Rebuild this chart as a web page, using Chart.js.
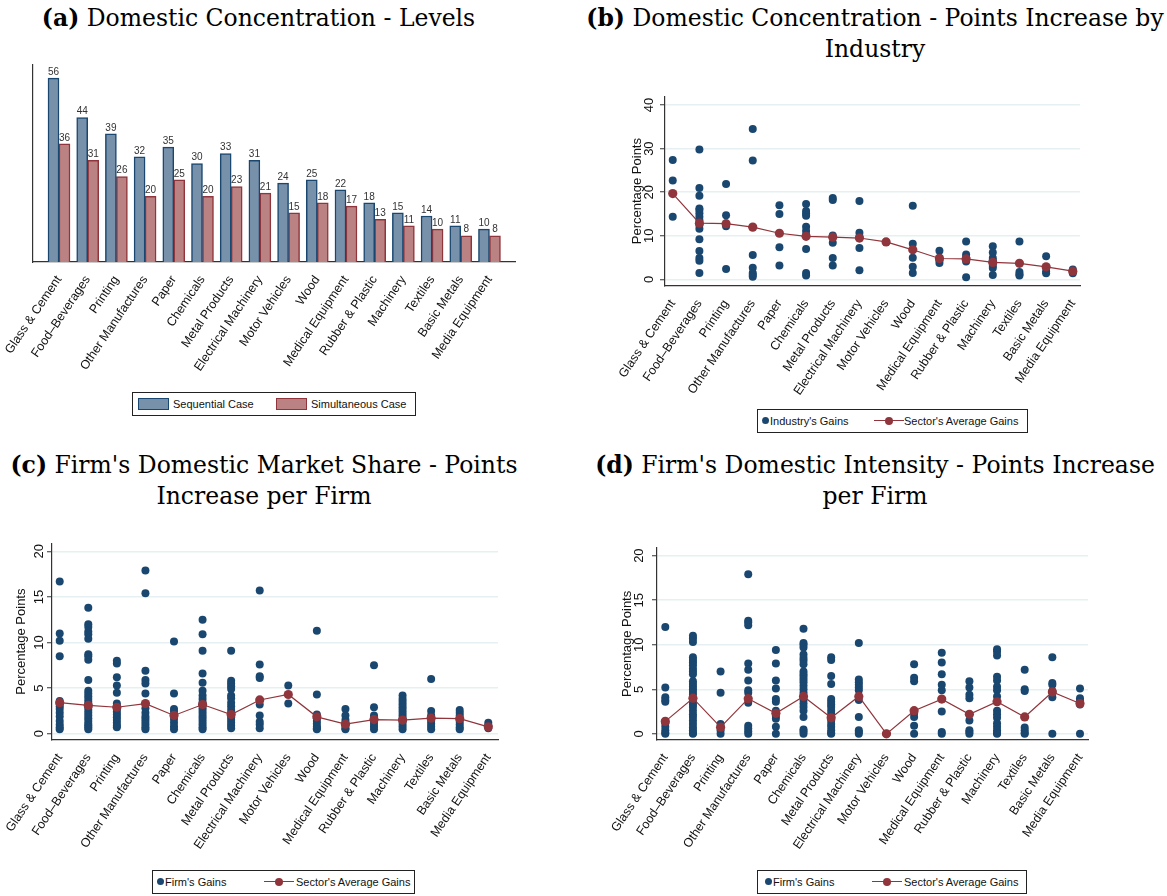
<!DOCTYPE html>
<html>
<head>
<meta charset="utf-8">
<script src="https://cdn.jsdelivr.net/npm/chart.js@4.4.1/dist/chart.umd.min.js"></script>
<style>
  html, body { margin: 0; padding: 0; background: #fff; }
  #page { position: relative; width: 1167px; height: 896px; overflow: hidden; background: #fff; }
  canvas { position: absolute; }
  .title { position: absolute; font-family: "DejaVu Serif", "Liberation Serif", serif; font-size: 23.5px; color: #000; text-align: center; line-height: 31px; white-space: nowrap; }
  .legend { position: absolute; border: 1px solid #222; background: #fff; font-family: "Liberation Sans", Arial, sans-serif; font-size: 11px; color: #111; box-sizing: border-box; white-space: nowrap; }
  .legend > * { position: absolute; }
  .legend .txt { top: 4px; line-height: 14px; }
  .swatch { top: 5px; width: 31px; height: 12px; box-sizing: border-box; }
  .dot { top: 7px; width: 7px; height: 7px; border-radius: 50%; background: #1a476f; }
  .lineMark { top: 6px; width: 30px; height: 10px; }
  .lineMark::before { content: ""; position: absolute; left: 0; right: 0; top: 4px; height: 1.4px; background: #90353b; }
  .lineMark::after { content: ""; position: absolute; left: 11px; top: 1px; width: 8px; height: 8px; border-radius: 50%; background: #90353b; }
</style>
</head>
<body>
<div id="page">
  <div class="title" style="left:0; width:517px; top:3px;"><b>(a)</b> Domestic Concentration - Levels</div>
  <div class="title" style="left:583px; width:584px; top:3px;"><b>(b)</b> Domestic Concentration - Points Increase by<br>Industry</div>
  <div class="title" style="left:0; width:528px; top:450px;"><b>(c)</b> Firm's Domestic Market Share - Points<br>Increase per Firm</div>
  <div class="title" style="left:590px; width:570px; top:450px;"><b>(d)</b> Firm's Domestic Intensity - Points Increase<br>per Firm</div>

  <canvas id="chartA" width="530" height="330" style="left:0; top:55px;"></canvas>
  <canvas id="chartB" width="495" height="320" style="left:600px; top:85px;"></canvas>
  <canvas id="chartC" width="510" height="330" style="left:0; top:535px;"></canvas>
  <canvas id="chartD" width="510" height="330" style="left:590px; top:535px;"></canvas>

  <div class="legend" style="left:132px; top:392px; width:284px; height:24px;">
    <div class="swatch" style="left:5px; background:#7891aa; border:1.5px solid #1a476f;"></div>
    <div class="txt" style="left:40px;">Sequential Case</div>
    <div class="swatch" style="left:143px; background:#bb8283; border:1.5px solid #90353b;"></div>
    <div class="txt" style="left:178px;">Simultaneous Case</div>
  </div>
  <div class="legend" style="left:757px; top:409px; width:271px; height:24px;">
    <div class="dot" style="left:4px;"></div>
    <div class="txt" style="left:12px;">Industry's Gains</div>
    <div class="lineMark" style="left:116px;"></div>
    <div class="txt" style="left:146px;">Sector's Average Gains</div>
  </div>
  <div class="legend" style="left:152px; top:870px; width:263px; height:24px;">
    <div class="dot" style="left:4px;"></div>
    <div class="txt" style="left:12px;">Firm's Gains</div>
    <div class="lineMark" style="left:111px;"></div>
    <div class="txt" style="left:143px;">Sector's Average Gains</div>
  </div>
  <div class="legend" style="left:757px; top:870px; width:270px; height:24px;">
    <div class="dot" style="left:7px;"></div>
    <div class="txt" style="left:15px;">Firm's Gains</div>
    <div class="lineMark" style="left:114px;"></div>
    <div class="txt" style="left:146px;">Sector's Average Gains</div>
  </div>
</div>

<script>
// ---- Industry names (same order in every panel) ----
const industries = [
  "Glass & Cement", "Food\u2013Beverages", "Printing", "Other Manufactures", "Paper",
  "Chemicals", "Metal Products", "Electrical Machinery", "Motor Vehicles", "Wood",
  "Medical Equipment", "Rubber & Plastic", "Machinery", "Textiles", "Basic Metals",
  "Media Equipment"
];

// ---- (a) Concentration levels ----
const sequentialLevels   = [56, 44, 39, 32, 35, 30, 33, 31, 24, 25, 22, 18, 15, 14, 11, 10];
const simultaneousLevels = [36, 31, 26, 20, 25, 20, 23, 21, 15, 18, 17, 13, 11, 10, 8, 8];

// ---- (b) Concentration increase by industry ----
const industryGains = [
  [27.4, 22.7, 14.4],
  [29.8, 21.0, 19.2, 16.3, 15.9, 15.2, 14.4, 13.6, 12.5, 11.6, 9.2, 6.5, 4.9, 4.3, 1.5],
  [21.9, 14.7, 12.2, 2.4],
  [34.5, 27.3, 5.6, 2.7, 1.5, 1.0, 0.6],
  [17.0, 15.0, 7.4, 3.2],
  [17.3, 15.7, 15.1, 14.6, 12.1, 11.1, 10.2, 7.0, 1.5, 0.9],
  [18.7, 18.2, 10.1, 8.4, 4.9, 3.2],
  [18.0, 10.7, 9.8, 7.2, 2.1],
  [8.6],
  [16.9, 8.2, 5.0, 2.9, 1.5],
  [6.6, 5.0, 4.4, 3.8],
  [8.7, 5.7, 5.1, 4.1, 0.5],
  [7.6, 6.2, 4.9, 4.4, 3.8, 3.1, 2.6, 1.0],
  [8.7, 1.7, 1.2, 0.9],
  [5.3, 2.8, 1.8, 1.4],
  [2.3, 1.7, 1.4]
];
const industryAvg = [19.7, 12.9, 12.8, 12.0, 10.6, 9.9, 9.7, 9.5, 8.6, 6.8, 4.8, 4.7, 3.9, 3.7, 2.9, 1.9];

// ---- (c) Firm market share increase ----
const shareGains = [
  [16.7, 11.0, 10.2, 8.5, 3.6, 3.3, 3.0, 2.7, 2.3, 1.9, 1.4, 1.0, 0.7, 0.5],
  [13.8, 12.0, 11.7, 11.2, 10.9, 10.4, 8.7, 8.5, 8.1, 5.9, 4.7, 4.4, 4.1, 3.8, 3.5, 3.2, 2.9, 2.6, 2.3, 2.0, 1.7, 1.4, 1.1, 0.9, 0.7, 0.5],
  [8.0, 7.7, 6.2, 5.3, 4.5, 3.3, 3.0, 2.7, 2.4, 2.1, 1.8, 1.5, 1.2, 0.9, 0.7],
  [17.9, 15.4, 6.9, 5.9, 5.5, 4.4, 2.8, 2.3, 1.9, 1.6, 1.3, 1.0, 0.7, 0.5],
  [10.1, 4.4, 2.7, 2.4, 1.6, 1.2, 0.8, 0.5],
  [12.5, 10.9, 9.1, 6.6, 5.6, 4.7, 4.2, 3.8, 3.4, 3.1, 2.8, 2.5, 2.2, 1.9, 1.6, 1.3, 1.0, 0.7, 0.5],
  [9.1, 5.8, 5.5, 5.2, 4.9, 4.2, 3.9, 3.4, 3.0, 2.6, 2.2, 1.8, 1.5, 1.2, 0.9, 0.6],
  [15.7, 7.6, 6.3, 6.1, 3.2, 2.0, 1.3, 1.0, 0.6],
  [5.3, 3.3],
  [11.3, 4.3, 2.1, 1.7, 1.4, 1.1, 0.8, 0.6, 0.5],
  [2.7, 2.0, 1.5, 1.2, 0.9, 0.6, 0.5],
  [7.5, 2.9, 2.0, 1.7, 1.4, 1.1, 0.8, 0.5],
  [4.2, 3.8, 3.5, 3.2, 2.9, 2.6, 2.3, 2.0, 1.7, 1.4, 1.1, 0.8, 0.5],
  [6.0, 2.5, 2.0, 1.4, 1.1, 0.8, 0.5],
  [2.6, 2.3, 2.0, 1.6, 1.3, 1.0, 0.7, 0.5],
  [1.2, 0.9, 0.6]
];
const shareAvg = [3.4, 3.1, 2.9, 3.3, 2.0, 3.2, 2.1, 3.7, 4.3, 1.85, 1.05, 1.55, 1.5, 1.7, 1.65, 0.75];

// ---- (d) Firm domestic intensity increase ----
const intensityGains = [
  [12.0, 5.2, 4.1, 3.8, 3.6, 1.2, 0.8, 0.4, 0.1, 0.0],
  [11.0, 10.7, 10.3, 8.6, 8.3, 8.0, 7.7, 7.3, 7.0, 6.7, 5.9, 5.6, 5.3, 5.0, 4.7, 4.4, 3.6, 3.3, 3.0, 2.6, 2.2, 1.9, 1.5, 1.1, 0.7, 0.4, 0.1, 0.0],
  [7.0, 4.6, 1.1, 0.4, 0.0],
  [17.9, 12.7, 12.5, 12.2, 7.9, 7.2, 6.0, 4.9, 4.6, 3.5, 0.9, 0.6, 0.3, 0.0],
  [9.4, 7.9, 6.0, 5.1, 3.9, 3.6, 2.6, 2.0, 1.7, 0.8, 0.0],
  [11.8, 10.2, 10.0, 9.7, 8.9, 8.5, 8.2, 7.8, 7.0, 6.7, 6.4, 6.1, 5.8, 5.4, 5.0, 4.6, 3.8, 3.4, 3.0, 2.6, 1.9, 0.5, 0.3, 0.0],
  [8.6, 8.3, 6.5, 5.6, 3.9, 3.6, 3.3, 3.0, 2.6, 2.2, 1.5, 1.1, 0.8, 0.4, 0.1, 0.0],
  [10.2, 6.1, 5.8, 5.5, 5.2, 4.9, 3.8, 1.9, 0.4, 0.2, 0.0],
  [0.0],
  [7.8, 6.3, 5.9, 2.3, 1.9, 0.9, 0.0],
  [9.1, 8.0, 6.7, 5.5, 4.9, 2.5, 0.2, 0.0],
  [5.9, 5.2, 4.4, 4.0, 1.5, 0.4, 0.2, 0.0],
  [9.5, 9.2, 8.8, 6.4, 6.0, 5.3, 4.9, 4.2, 2.6, 2.2, 1.8, 1.2, 0.8, 0.4, 0.1, 0.0],
  [7.2, 5.0, 4.8, 0.7, 0.4, 0.1, 0.0],
  [8.6, 5.7, 5.5, 4.8, 4.1, 0.0],
  [5.1, 4.0, 3.7, 3.3, 0.0]
];
const intensityAvg = [1.4, 4.0, 0.75, 3.95, 2.3, 4.2, 1.8, 4.2, 0.0, 2.6, 3.9, 2.2, 3.6, 1.9, 4.7, 3.4];

// ---- shared styling ----
const NAVY = "#1a476f";
const MAROON = "#90353b";
const GRID = "#e6eff1";
const SANS = "'Liberation Sans', Arial, sans-serif";

Chart.defaults.font.family = SANS;
Chart.defaults.color = "#111";
Chart.defaults.animation = false;

function categoryAxis(min, max, height) {
  return {
    type: "linear",
    min: min, max: max,
    offset: false,
    afterBuildTicks: s => { s.ticks = industries.map((_, i) => ({ value: i })); },
    afterFit: s => { s.height = height; },
    ticks: {
      autoSkip: false, minRotation: 56, maxRotation: 56, padding: 3,
      font: { size: 12.5 }, color: "#111",
      callback: v => industries[v]
    },
    grid: { display: false },
    border: { display: true, color: "#333", width: 1.2 }
  };
}

// bar value labels for panel (a)
const barValueLabels = {
  id: "barValueLabels",
  afterDatasetsDraw(chart) {
    const ctx = chart.ctx;
    ctx.save();
    ctx.font = "10px " + SANS;
    ctx.fillStyle = "#333";
    ctx.textAlign = "center";
    ctx.textBaseline = "bottom";
    chart.data.datasets.forEach((ds, di) => {
      chart.getDatasetMeta(di).data.forEach((el, i) => {
        ctx.fillText(String(ds.data[i].y), el.x, el.y - 1);
      });
    });
    ctx.restore();
  }
};

new Chart(document.getElementById("chartA"), {
  type: "bar",
  data: {
    datasets: [
      { label: "Sequential Case", data: sequentialLevels.map((v, i) => ({ x: i, y: v })),
        backgroundColor: "#7891aa", borderColor: NAVY, borderWidth: 1.5, barThickness: 11 },
      { label: "Simultaneous Case", data: simultaneousLevels.map((v, i) => ({ x: i, y: v })),
        backgroundColor: "#bb8283", borderColor: MAROON, borderWidth: 1.5, barThickness: 11 }
    ]
  },
  options: {
    responsive: false, devicePixelRatio: 1,
    layout: { padding: { top: 10, right: 15, left: 0, bottom: 0 } },
    plugins: { legend: { display: false }, tooltip: { enabled: false } },
    scales: {
      x: categoryAxis(-0.906, 15.89, 123),
      y: {
        min: 0, max: 60,
        afterFit: s => { s.width = 33; },
        ticks: { display: false },
        grid: { display: false },
        border: { display: true, color: "#333", width: 1.2 }
      }
    }
  },
  plugins: [barValueLabels]
});

function scatterPanel(id, gains, avg, o) {
  const pts = [];
  gains.forEach((arr, i) => arr.forEach(v => pts.push({ x: i, y: v })));
  new Chart(document.getElementById(id), {
    type: "scatter",
    data: {
      datasets: [
        { label: "Sector's Average Gains", data: avg.map((v, i) => ({ x: i, y: v })),
          showLine: true, borderColor: MAROON, borderWidth: 1.2, backgroundColor: MAROON,
          pointRadius: 4.6, pointBorderWidth: 0, order: 0 },
        { label: "Gains", data: pts, backgroundColor: NAVY, borderColor: NAVY,
          pointRadius: 4, pointBorderWidth: 0, order: 1 }
      ]
    },
    options: {
      responsive: false, devicePixelRatio: 1,
      layout: { padding: { top: o.top, right: o.right, left: 0, bottom: 0 } },
      plugins: { legend: { display: false }, tooltip: { enabled: false } },
      scales: {
        x: categoryAxis(o.xmin, o.xmax, o.xh),
        y: {
          min: o.ymin, max: o.ymax,
          afterFit: s => { s.width = o.yw; },
          afterBuildTicks: s => { s.ticks = o.yticks.map(v => ({ value: v })); },
          ticks: { minRotation: 90, maxRotation: 90, crossAlign: "center", padding: o.tpad,
                   font: { size: 13 }, color: "#111" },
          grid: { color: GRID, lineWidth: 1.5, tickColor: "#333", tickLength: 5, tickWidth: 1 },
          border: { display: true, color: "#333", width: 1.2 },
          title: { display: true, text: "Percentage Points", font: { size: 13 }, color: "#111",
                   padding: { top: o.titlePad, bottom: 0 } }
        }
      }
    }
  });
}

scatterPanel("chartB", industryGains, industryAvg, {
  top: 11, right: 15, xmin: -0.29, xmax: 15.27, xh: 119,
  ymin: -1.5, ymax: 42, yticks: [0, 10, 20, 30, 40], yw: 65, tpad: 3.5, titlePad: 30
});
scatterPanel("chartC", shareGains, shareAvg, {
  top: 8, right: 12, xmin: -0.27, xmax: 15.34, xh: 125,
  ymin: -0.69, ymax: 20.88, yticks: [0, 5, 10, 15, 20], yw: 52, tpad: 0.5, titlePad: 14
});
scatterPanel("chartD", intensityGains, intensityAvg, {
  top: 8, right: 12, xmin: -0.3, xmax: 15.29, xh: 125,
  ymin: -0.69, ymax: 20.88, yticks: [0, 5, 10, 15, 20], yw: 67, tpad: 5, titlePad: 30
});
</script>
</body>
</html>
